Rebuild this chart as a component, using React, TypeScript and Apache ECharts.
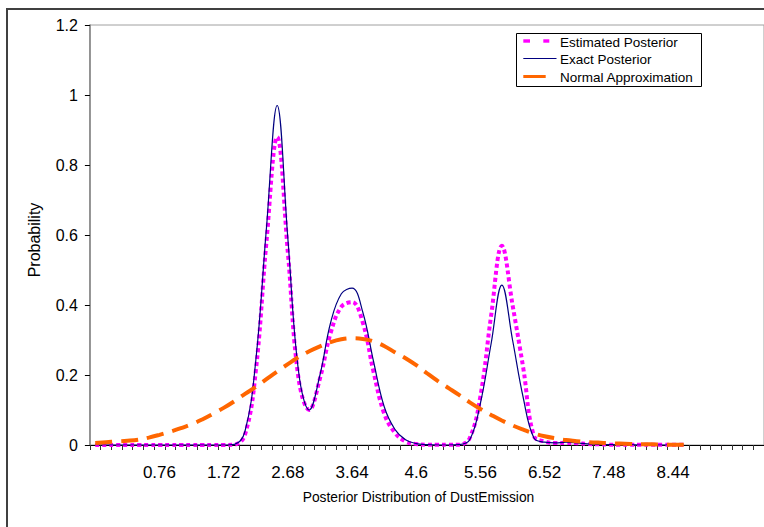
import React, { useEffect, useRef } from "react";
import * as echarts from "echarts";

const categories: string[] = [
  "-0.2", "-0.04", "0.12", "0.28", "0.44", "0.6", "0.76", "0.92", "1.08", "1.24",
  "1.4", "1.56", "1.72", "1.88", "2.04", "2.2", "2.36", "2.52", "2.68", "2.84",
  "3", "3.16", "3.32", "3.48", "3.64", "3.8", "3.96", "4.12", "4.28", "4.44",
  "4.6", "4.76", "4.92", "5.08", "5.24", "5.4", "5.56", "5.72", "5.88", "6.04",
  "6.2", "6.36", "6.52", "6.68", "6.84", "7", "7.16", "7.32", "7.48", "7.64",
  "7.8", "7.96", "8.12", "8.28", "8.44", "8.6", "8.76", "8.92", "9.08", "9.24",
  "9.4", "9.56", "9.72",
];

const seriesNames: string[] = ["Estimated Posterior", "Exact Posterior", "Normal Approximation"];

const estimatedPosterior: (number | null)[] = [
  0, 0, 0, 0, 0, 0, 0, 0, 0, 0,
  0, 0, 0, 0.001, 0.03, 0.21, 0.58, 0.88, 0.55, 0.19,
  0.1, 0.19, 0.32, 0.395, 0.408, 0.35, 0.21, 0.09, 0.035, 0.01,
  0.003, 0.001, 0.001, 0.001, 0.001, 0.02, 0.14, 0.37, 0.569, 0.4,
  0.22, 0.025, 0.01, 0.006, 0.006, 0.005, 0.003, 0.002, 0.001, 0.001,
  0.001, 0.001, 0.001, 0.001, 0.001, 0.001,
];

const exactPosterior: (number | null)[] = [
  0, 0, 0, 0, 0, 0, 0, 0, 0, 0,
  0, 0, 0, 0.002, 0.04, 0.24, 0.62, 0.97, 0.59, 0.21,
  0.1, 0.2, 0.35, 0.432, 0.448, 0.38, 0.24, 0.11, 0.045, 0.015,
  0.004, 0.001, 0, 0, 0.001, 0.015, 0.12, 0.29, 0.457, 0.3,
  0.135, 0.02, 0.008, 0.006, 0.008, 0.006, 0.003, 0.002, 0.001, 0.001,
  0.001, 0, 0, 0, 0, 0,
];

const normalApproximation: (number | null)[] = [
  0.006, 0.008, 0.01, 0.012, 0.015, 0.021, 0.029, 0.038, 0.048, 0.059,
  0.073, 0.089, 0.106, 0.125, 0.146, 0.166, 0.188, 0.21, 0.231, 0.251,
  0.268, 0.282, 0.294, 0.302, 0.305, 0.303, 0.296, 0.283, 0.265, 0.248,
  0.228, 0.205, 0.183, 0.163, 0.143, 0.122, 0.103, 0.086, 0.07, 0.056,
  0.044, 0.033, 0.025, 0.019, 0.014, 0.011, 0.008, 0.007, 0.005, 0.004,
  0.003, 0.002, 0.002, 0.001, 0.001, 0.001,
];

const yTicks = { min: 0, max: 1.2, interval: 0.2 };

const FONT = "'Liberation Sans', Arial, Helvetica, sans-serif";
const PINK = "#FF00FF";
const NAVY = "#000080";
const ORANGE = "#FF6600";

export default function App() {
  const ref = useRef<HTMLDivElement>(null);

  useEffect(() => {
    if (!ref.current) return;
    const chart = echarts.init(ref.current, undefined, { renderer: "svg" });

    const legendText = (text: string, y: number) => ({
      type: "text",
      x: 560,
      y,
      z: 101,
      style: {
        text,
        fontSize: 13.5,
        fontFamily: FONT,
        fill: "#000",
        align: "left",
        verticalAlign: "middle",
      },
    });

    chart.setOption({
      animation: false,
      backgroundColor: "#ffffff",
      textStyle: { fontFamily: FONT },
      grid: {
        left: 89.9,
        top: 25,
        width: 677.25,
        height: 420,
        show: true,
        borderColor: "#a0a0a0",
        borderWidth: 1,
        backgroundColor: "#ffffff",
      },
      xAxis: {
        type: "category",
        data: categories,
        boundaryGap: true,
        axisLine: { show: true, lineStyle: { color: "#000", width: 1 } },
        axisTick: { show: true, interval: 0, length: 5, lineStyle: { color: "#333" } },
        axisLabel: {
          interval: (i: number) => i % 6 === 0 && i >= 6 && i <= 54,
          fontSize: 17,
          color: "#000",
          margin: 19,
          fontFamily: FONT,
        },
        splitLine: { show: false },
      },
      yAxis: {
        type: "value",
        min: yTicks.min,
        max: yTicks.max,
        interval: yTicks.interval,
        axisLine: { show: true, lineStyle: { color: "#808080", width: 1.5 } },
        axisTick: { show: true, length: 5, lineStyle: { color: "#000" } },
        axisLabel: { fontSize: 16, color: "#000", margin: 12, fontFamily: FONT },
        splitLine: { show: false },
      },
      graphic: [
        {
          type: "rect",
          z: -10,
          silent: true,
          shape: { x: 7, y: 9, width: 900, height: 700 },
          style: { fill: "none", stroke: "#404040", lineWidth: 2 },
        },
        {
          type: "text",
          x: 34.5,
          y: 240,
          rotation: Math.PI / 2,
          style: {
            text: "Probability",
            fontSize: 16,
            fontFamily: FONT,
            fill: "#000",
            align: "center",
            verticalAlign: "middle",
          },
        },
        {
          type: "text",
          x: 418.5,
          y: 497,
          style: {
            text: "Posterior Distribution of DustEmission",
            fontSize: 13.8,
            fontFamily: FONT,
            fill: "#000",
            align: "center",
            verticalAlign: "middle",
          },
        },
        // legend box
        {
          type: "rect",
          z: 100,
          shape: { x: 516.5, y: 33.5, width: 185, height: 53 },
          style: { fill: "#fff", stroke: "#000", lineWidth: 1 },
        },
        {
          type: "rect",
          z: 101,
          shape: { x: 523.3, y: 39.3, width: 6.7, height: 3.4 },
          style: { fill: PINK },
        },
        {
          type: "rect",
          z: 101,
          shape: { x: 543.3, y: 39.3, width: 6, height: 3.4 },
          style: { fill: PINK },
        },
        {
          type: "line",
          z: 101,
          shape: { x1: 523.3, y1: 58.5, x2: 556.5, y2: 58.5 },
          style: { stroke: NAVY, lineWidth: 1.2 },
        },
        {
          type: "rect",
          z: 101,
          shape: { x: 523.3, y: 75, width: 22.4, height: 3 },
          style: { fill: ORANGE },
        },
        legendText(seriesNames[0], 42),
        legendText(seriesNames[1], 59.5),
        legendText(seriesNames[2], 77.5),
      ],
      series: [
        {
          name: seriesNames[0],
          type: "line",
          data: estimatedPosterior,
          smooth: 0.4,
          symbol: "none",
          lineStyle: { color: PINK, width: 4, type: [4, 3] },
          itemStyle: { color: PINK },
          z: 2,
        },
        {
          name: seriesNames[1],
          type: "line",
          data: exactPosterior,
          smooth: 0.4,
          symbol: "none",
          lineStyle: { color: NAVY, width: 1.2 },
          itemStyle: { color: NAVY },
          z: 3,
        },
        {
          name: seriesNames[2],
          type: "line",
          data: normalApproximation,
          smooth: 0.4,
          symbol: "none",
          lineStyle: { color: ORANGE, width: 4, type: [17, 9] },
          itemStyle: { color: ORANGE },
          z: 4,
        },
      ],
    });
    return () => chart.dispose();
  }, []);

  return (
    <div
      ref={ref}
      style={{ position: "fixed", left: 0, top: 0, width: 764, height: 527 }}
    />
  );
}
